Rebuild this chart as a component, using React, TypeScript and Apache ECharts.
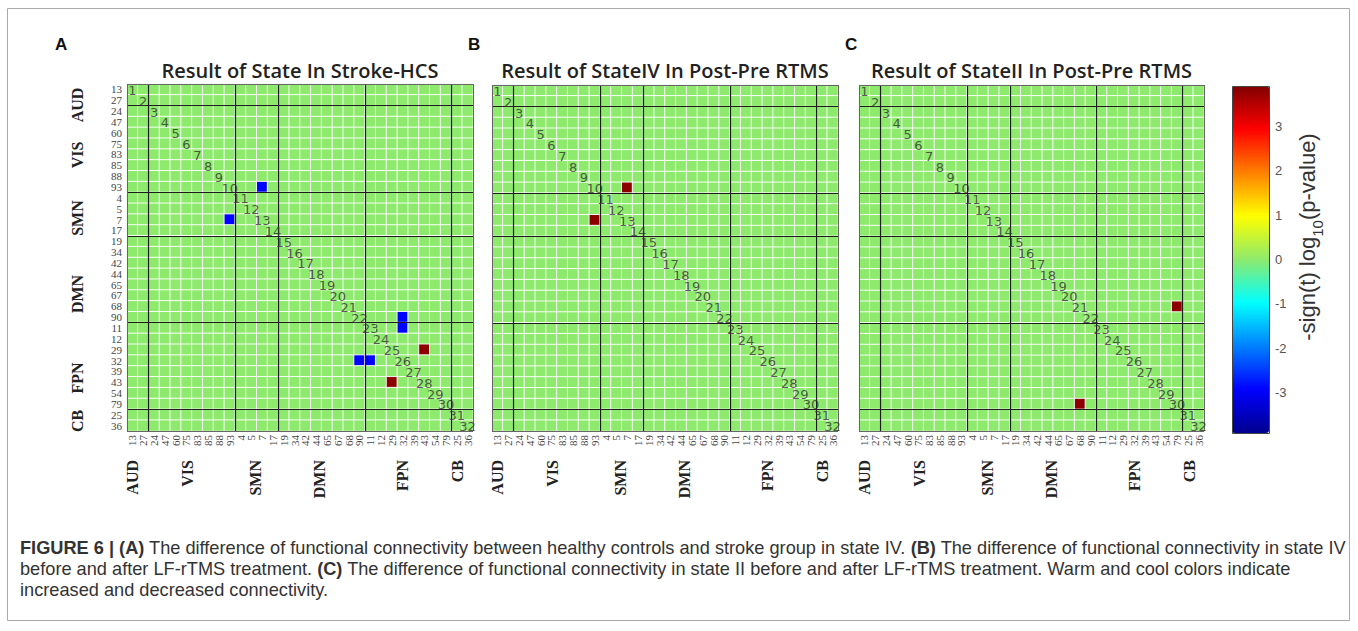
import React, { useEffect, useRef } from 'react';
import * as echarts from 'echarts';

// ---------------- data ----------------
const ROI_LABELS = ['13','27','24','47','60','75','83','85','88','93','4','5','7','17','19','34','42','44','65','67','68','90','11','12','29','32','39','43','54','79','25','36'];
const NETWORK_NAMES = ['AUD', 'VIS', 'SMN', 'DMN', 'FPN', 'CB'];
const NETWORK_SIZES = [2, 8, 4, 8, 8, 2];
const PANEL_LETTERS = ['A', 'B', 'C'];
const PANEL_TITLES = [
  'Result of State In Stroke-HCS',
  'Result of StateIV In Post-Pre RTMS',
  'Result of StateII In Post-Pre RTMS',
];
// significant cells: [row, column, value] (1-based ROI order)
const SIG_A = [[10, 13, -2.9], [13, 10, -2.9], [22, 26, -2.9], [23, 26, -2.9], [26, 22, -2.9], [26, 23, -2.9], [25, 28, 3.8], [28, 25, 3.8]];
const SIG_B = [[10, 13, 3.8], [13, 10, 3.8]];
const SIG_C = [[21, 30, 3.8], [30, 21, 3.8]];
const PANEL_SIGS = [SIG_A, SIG_B, SIG_C];
const COLORBAR_TICKS = [-3, -2, -1, 0, 1, 2, 3];
const COLOR_MIN = -3.9;
const COLOR_MAX = 3.9;
const CAPTION_LINES = [
  '{b|FIGURE 6 | (A)} The difference of functional connectivity between healthy controls and stroke group in state IV. {b|(B)} The difference of functional connectivity in state IV',
  'before and after LF-rTMS treatment. {b|(C)} The difference of functional connectivity in state II before and after LF-rTMS treatment. Warm and cool colors indicate',
  'increased and decreased connectivity.',
];

// ---------------- layout ----------------
const GRIDS = [
  { left: 127, top: 84, width: 346, height: 347 },
  { left: 492, top: 85, width: 346, height: 346 },
  { left: 859, top: 85, width: 345, height: 346 },
];
const CB = { left: 1232, top: 86, width: 37, height: 347 };
const LEFT_LABEL_Y = [105, 155, 218, 294, 378, 421];
const BOTTOM_LABEL_DX = [5, 60, 128, 192, 275, 330];
const JET = ['#00008f', '#0000ff', '#0080ff', '#00ffff', '#8eea6c', '#ffff00', '#ff8000', '#ff0000', '#800000'];
const SERIF = "'Liberation Serif', 'DejaVu Serif', serif";
const SANS = "'Liberation Sans', Arial, sans-serif";

function buildOption() {
  const n = ROI_LABELS.length;
  const boundaries: number[] = [];
  let acc = 0;
  NETWORK_SIZES.slice(0, -1).forEach((s) => { acc += s; boundaries.push(acc); });

  const grid: any[] = [];
  const xAxis: any[] = [];
  const yAxis: any[] = [];
  const series: any[] = [];
  const heatIdx: number[] = [];

  GRIDS.forEach((g, p) => {
    grid.push({ ...g, containLabel: false });
    xAxis.push({
      type: 'category', gridIndex: p, data: ROI_LABELS, position: 'bottom',
      axisLine: { show: false }, axisTick: { show: false }, splitLine: { show: false },
      axisLabel: { interval: 0, rotate: 90, fontSize: 11, fontFamily: SERIF, color: '#444', margin: 4 },
    });
    xAxis.push({ type: 'value', gridIndex: p, min: 0, max: n, show: false });
    yAxis.push({
      type: 'category', gridIndex: p, data: ROI_LABELS, inverse: true,
      axisLine: { show: false }, axisTick: { show: false }, splitLine: { show: false },
      axisLabel: { show: p === 0, interval: 0, fontSize: 11, fontFamily: SERIF, color: '#444', margin: 5 },
    });
    yAxis.push({ type: 'value', gridIndex: p, min: 0, max: n, inverse: true, show: false });

    const lookup: Record<string, number> = {};
    PANEL_SIGS[p].forEach(([r, c, v]) => { lookup[`${r - 1}_${c - 1}`] = v; });
    const data: any[] = [];
    for (let r = 0; r < n; r++) {
      for (let c = 0; c < n; c++) {
        data.push([c, r, lookup[`${r}_${c}`] ?? 0]);
      }
    }
    heatIdx.push(series.length);
    series.push({
      type: 'heatmap', xAxisIndex: 2 * p, yAxisIndex: 2 * p, data,
      itemStyle: { borderColor: 'rgba(255,255,255,0.9)', borderWidth: 1 },
      emphasis: { disabled: true }, silent: true, z: 2,
    });
    const diag = ROI_LABELS.map((_, i) => [i + 0.5, i + 0.5, i + 1]);
    series.push({
      type: 'scatter', xAxisIndex: 2 * p + 1, yAxisIndex: 2 * p + 1, data: diag,
      symbolSize: 1, itemStyle: { color: 'rgba(0,0,0,0)' }, silent: true, z: 5,
      label: {
        show: true, position: 'inside', offset: [0, 1], formatter: (d: any) => String(d.value[2]),
        fontSize: 13, fontFamily: "'DejaVu Sans', sans-serif", color: '#333',
      },
      markLine: {
        silent: true, symbol: ['none', 'none'], label: { show: false }, emphasis: { disabled: true },
        lineStyle: { color: '#1c1c1c', width: 1.2, type: 'solid' },
        data: [
          ...boundaries.map((b) => ({ xAxis: b })),
          ...boundaries.map((b) => ({ yAxis: b })),
          { xAxis: 0, lineStyle: { color: '#666', width: 1 } },
          { xAxis: n, lineStyle: { color: '#666', width: 1 } },
          { yAxis: 0, lineStyle: { color: '#666', width: 1 } },
          { yAxis: n, lineStyle: { color: '#666', width: 1 } },
        ],
      },
    });
  });

  // colorbar axis
  grid.push({ ...CB });
  xAxis.push({ type: 'value', gridIndex: 3, show: false, min: 0, max: 1 });
  yAxis.push({
    type: 'value', gridIndex: 3, min: COLOR_MIN, max: COLOR_MAX, position: 'right',
    axisLine: { show: false }, splitLine: { show: false },
    axisTick: { show: true, customValues: COLORBAR_TICKS, length: 3, inside: false, lineStyle: { color: '#555' } },
    axisLabel: { customValues: COLORBAR_TICKS, fontSize: 13, fontFamily: SANS, color: '#555', margin: 6 },
  });

  const graphic: any[] = [];
  graphic.push({ type: 'rect', shape: { x: 7.5, y: 8.5, width: 1342, height: 612 }, style: { fill: 'none', stroke: '#aaa', lineWidth: 1 }, silent: true });
  const letterX = [55, 468, 845];
  GRIDS.forEach((g, p) => {
    graphic.push({ type: 'text', x: letterX[p], y: 44, style: { text: PANEL_LETTERS[p], font: `bold 17px ${SANS}`, fill: '#111', textAlign: 'left', textVerticalAlign: 'middle', align: 'left', verticalAlign: 'middle' }, silent: true });
    graphic.push({ type: 'text', x: g.left + g.width / 2, y: 70, style: { text: PANEL_TITLES[p], font: `600 20px 'Open Sans', ${SANS}`, fill: '#222', textAlign: 'center', textVerticalAlign: 'middle', align: 'center', verticalAlign: 'middle' }, silent: true });
    NETWORK_NAMES.forEach((name, k) => {
      graphic.push({ type: 'text', x: g.left + BOTTOM_LABEL_DX[k], y: 460, rotation: Math.PI / 2, style: { text: name, font: `bold 16px ${SERIF}`, fill: '#222', textAlign: 'right', textVerticalAlign: 'middle', align: 'right', verticalAlign: 'middle' }, silent: true });
      if (p === 0) {
        graphic.push({ type: 'text', x: 77, y: LEFT_LABEL_Y[k], rotation: Math.PI / 2, style: { text: name, font: `bold 16px ${SERIF}`, fill: '#222', textAlign: 'center', textVerticalAlign: 'middle', align: 'center', verticalAlign: 'middle' }, silent: true });
      }
    });
  });
  graphic.push({ type: 'rect', z: 100, shape: { x: CB.left + 0.5, y: CB.top + 0.5, width: CB.width, height: CB.height }, style: { fill: 'none', stroke: '#444', lineWidth: 1 }, silent: true });
  graphic.push({
    type: 'text', x: 1306, y: 237, rotation: Math.PI / 2, silent: true,
    style: {
      text: '{a|-sign(t) log}{s|10}{a|(p-value)}', textAlign: 'center', textVerticalAlign: 'middle', align: 'center', verticalAlign: 'middle',
      rich: {
        a: { font: `22px ${SANS}`, fill: '#333', lineHeight: 25, verticalAlign: 'bottom' },
        s: { font: `15px ${SANS}`, fill: '#333', lineHeight: 25, verticalAlign: 'bottom', padding: [0, 0, -6, 0] },
      },
    },
  });
  CAPTION_LINES.forEach((line, i) => {
    graphic.push({
      type: 'text', x: 20, y: 548 + i * 21, silent: true,
      style: {
        text: line, textAlign: 'left', textVerticalAlign: 'middle', align: 'left', verticalAlign: 'middle',
        font: `18.2px ${SANS}`, fill: '#333',
        rich: { b: { font: `bold 18.2px ${SANS}`, fill: '#333' } },
      },
    });
  });

  return {
    animation: false,
    backgroundColor: '#fff',
    grid, xAxis, yAxis, series, graphic,
    visualMap: {
      type: 'continuous', min: COLOR_MIN, max: COLOR_MAX, seriesIndex: heatIdx, dimension: 2,
      inRange: { color: JET }, calculable: false, orient: 'vertical',
      left: CB.left, top: CB.top, itemWidth: CB.width, itemHeight: CB.height, padding: 0,
      text: ['', ''], textGap: 0, showLabel: false,
    },
  };
}

export default function App() {
  const ref = useRef<HTMLDivElement>(null);
  useEffect(() => {
    if (!ref.current) return;
    const chart = echarts.init(ref.current, undefined, { renderer: 'svg' });
    chart.setOption(buildOption() as any);
    return () => chart.dispose();
  }, []);
  return <div ref={ref} style={{ position: 'fixed', left: 0, top: 0, width: 1358, height: 631, background: '#fff' }} />;
}
